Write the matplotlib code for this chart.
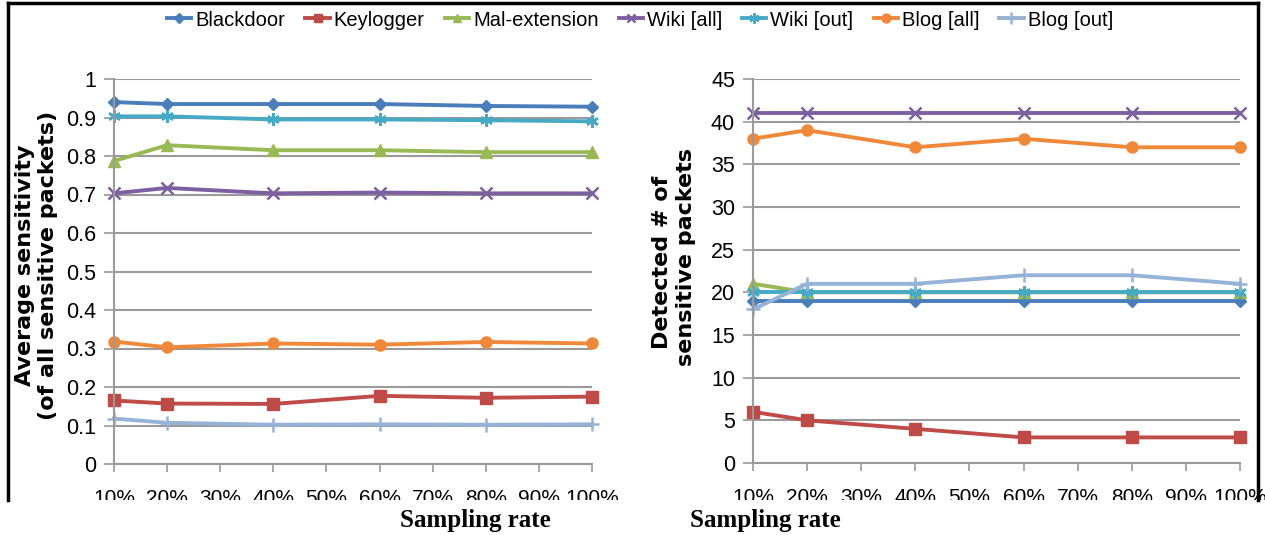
import matplotlib
matplotlib.use("Agg")
import matplotlib.pyplot as plt
from matplotlib import font_manager
from matplotlib.lines import Line2D
from matplotlib.patches import Rectangle

names = {f.name for f in font_manager.fontManager.ttflist}
NARROW = "Liberation Sans Narrow" if "Liberation Sans Narrow" in names else "Liberation Sans"

categories = ["10%", "20%", "30%", "40%", "50%", "60%", "70%", "80%", "90%", "100%"]
sample_idx = [0, 1, 3, 5, 7, 9]  # category positions with data (10,20,40,60,80,100%)

series = ["Blackdoor", "Keylogger", "Mal-extension", "Wiki [all]", "Wiki [out]", "Blog [all]", "Blog [out]"]

sens_blackdoor = [0.940, 0.935, 0.935, 0.935, 0.930, 0.928]
sens_keylogger = [0.165, 0.157, 0.156, 0.177, 0.172, 0.175]
sens_malext = [0.787, 0.828, 0.815, 0.815, 0.810, 0.810]
sens_wiki_all = [0.703, 0.717, 0.703, 0.705, 0.703, 0.703]
sens_wiki_out = [0.903, 0.903, 0.895, 0.895, 0.893, 0.890]
sens_blog_all = [0.318, 0.303, 0.313, 0.310, 0.317, 0.313]
sens_blog_out = [0.118, 0.107, 0.102, 0.103, 0.102, 0.103]

det_blackdoor = [19, 19, 19, 19, 19, 19]
det_keylogger = [6, 5, 4, 3, 3, 3]
det_malext = [21, 20, 20, 20, 20, 20]
det_wiki_all = [41, 41, 41, 41, 41, 41]
det_wiki_out = [20, 20, 20, 20, 20, 20]
det_blog_all = [38, 39, 37, 38, 37, 37]
det_blog_out = [18, 21, 21, 22, 22, 21]

colors = ["#4A7EBB", "#BE4B48", "#98B954", "#7D60A0", "#46AAC5", "#F0883A", "#95B3D7"]
markers = ["D", "s", "^", "x", (6, 2, 0), "o", "+"]
msizes = [6, 8, 8, 8, 9, 8, 10]

sens = [sens_blackdoor, sens_keylogger, sens_malext, sens_wiki_all, sens_wiki_out, sens_blog_all, sens_blog_out]
det = [det_blackdoor, det_keylogger, det_malext, det_wiki_all, det_wiki_out, det_blog_all, det_blog_out]

W, H = 1265, 535
fig = plt.figure(figsize=(W / 100, H / 100), dpi=100)

def box(x0, x1, ytop, ybot):
    return [x0 / W, 1 - ybot / H, (x1 - x0) / W, (ybot - ytop) / H]

ax1 = fig.add_axes(box(114, 592, 79, 464))
ax2 = fig.add_axes(box(753, 1240, 79, 463))

def style(ax, ylim, yticks, ylabels):
    ax.set_xlim(0, len(categories) - 1)
    ax.set_ylim(*ylim)
    ax.set_xticks(range(len(categories)))
    ax.set_xticklabels(categories, fontfamily=NARROW, fontsize=15)
    ax.set_yticks(yticks)
    ax.set_yticklabels(ylabels, fontfamily=NARROW, fontsize=15.5)
    for s in ["top", "right"]:
        ax.spines[s].set_visible(False)
    for s in ["left", "bottom"]:
        ax.spines[s].set_color("#9A9A9A")
        ax.spines[s].set_linewidth(1.5)
    ax.grid(axis="y", color="#9A9A9A", linewidth=1.5)
    ax.set_axisbelow(True)
    ax.tick_params(axis="both", direction="out", color="#9A9A9A", width=1.2, length=6, pad=12)
    ax.tick_params(axis="y", length=7, pad=6)

style(ax1, (0, 1), [i / 10 for i in range(11)], ["0", "0.1", "0.2", "0.3", "0.4", "0.5", "0.6", "0.7", "0.8", "0.9", "1"])
style(ax2, (0, 45), list(range(0, 46, 5)), [str(v) for v in range(0, 46, 5)])

handles = []
for vals_s, vals_d, c, m, ms, name in zip(sens, det, colors, markers, msizes, series):
    mew = 1.8 if m in ("x", "+") or isinstance(m, tuple) else 1.0
    h, = ax1.plot(sample_idx, vals_s, color=c, marker=m, markersize=ms, linewidth=2.8,
                  markeredgewidth=mew, markeredgecolor=c, label=name, clip_on=False)
    ax2.plot(sample_idx, vals_d, color=c, marker=m, markersize=ms, linewidth=2.8,
             markeredgewidth=mew, markeredgecolor=c, label=name, clip_on=False)
    handles.append(h)

fig.legend(handles=handles, labels=series, loc="center", bbox_to_anchor=(640 / W, 1 - 20 / H),
           ncol=7, frameon=False, prop={"family": NARROW, "size": 14.5}, handlelength=1.2,
           handletextpad=0.2, columnspacing=1.0, markerscale=0.8)

lab_kw = dict(rotation=90, ha="center", va="center", fontsize=16, fontweight="bold",
              fontfamily="DejaVu Sans")
fig.text(25 / W, 1 - 265 / H, "Average sensitivity", **lab_kw)
fig.text(48 / W, 1 - 265 / H, "(of all sensitive packets)", **lab_kw)
fig.text(662 / W, 1 - 262 / H, "Detected # of", **lab_kw)
fig.text(686 / W, 1 - 257 / H, "sensitive packets", **lab_kw)

# white band below the frame, which cuts the x tick labels as in the reference
fig.add_artist(Rectangle((0, 0), 1, 1 - 500 / H, transform=fig.transFigure,
                         facecolor="white", edgecolor="none", zorder=5))

# outer frame (left, top, right)
frame_kw = dict(transform=fig.transFigure, color="black", linewidth=2.5, zorder=6)
fig.add_artist(Line2D([8 / W, 8 / W], [1 - 500 / H, 1 - 3 / H], **frame_kw))
fig.add_artist(Line2D([8 / W, 1258 / W], [1 - 3 / H, 1 - 3 / H], **frame_kw))
fig.add_artist(Line2D([1258 / W, 1258 / W], [1 - 3 / H, 1 - 500 / H], **frame_kw))

fig.text(475 / W, 1 - 520 / H, "Sampling rate", ha="center", va="center", fontsize=18,
         fontweight="bold", fontfamily="Liberation Serif", zorder=7)
fig.text(765 / W, 1 - 520 / H, "Sampling rate", ha="center", va="center", fontsize=18,
         fontweight="bold", fontfamily="Liberation Serif", zorder=7)

fig.savefig("out.png", dpi=100, facecolor="white")
